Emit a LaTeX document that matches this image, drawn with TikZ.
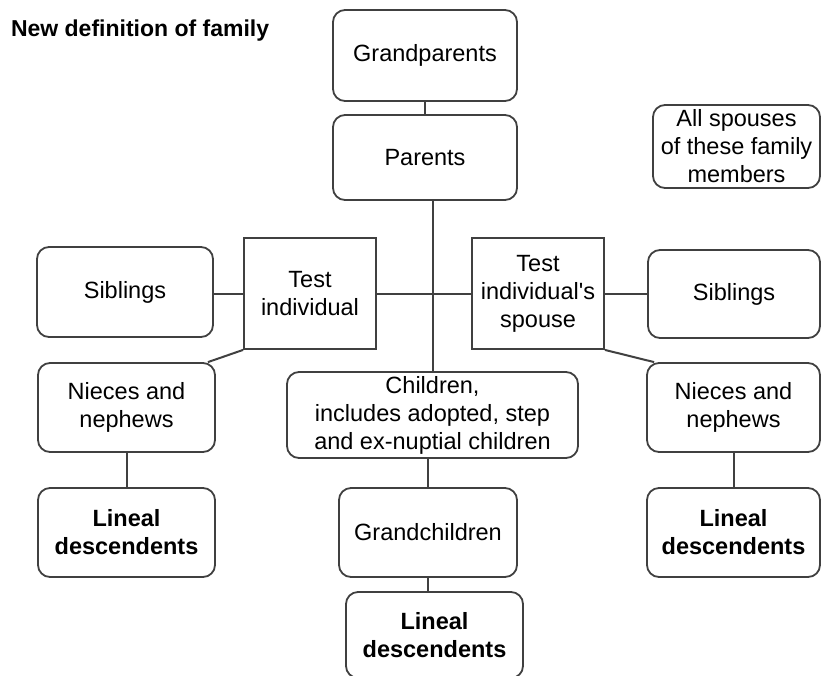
\documentclass[tikz,border=0pt]{standalone}
\usepackage{fontspec}
\setmainfont{Liberation Sans}
\usetikzlibrary{calc}
\definecolor{linegray}{gray}{0.25}

\begin{document}
\begin{tikzpicture}[x=1pt, y=-1pt,
    line width=2pt, draw=linegray,
    box/.style={rectangle, rounded corners=12pt, draw=linegray, line width=1.8pt, inner sep=0pt, align=center, font=\fontsize{23.5}{28}\selectfont},
    sqbox/.style={box, rounded corners=0pt},
    boldbox/.style={box, font=\fontsize{23.5}{28}\selectfont\bfseries}]
      \clip (0, 0) rectangle (821, 675);
      \node[anchor=base west, inner sep=0pt, font=\fontsize{23}{26}\selectfont\bfseries] (title) at (10, 36) {New definition of family};

      \node[box, minimum width=184, minimum height=91] (gp) at (425, 55.5) {Grandparents};
      \node[box, minimum width=184, minimum height=85] (par) at (425, 157.5) {Parents};
      \node[box, minimum width=167, minimum height=83] (spo) at (736.5, 146.5) {All spouses\\of these family\\members};

      \node[box, minimum width=176, minimum height=90] (sibl) at (125, 292) {Siblings};
      \node[sqbox, minimum width=132, minimum height=111] (ti) at (310, 293.5) {Test\\individual};
      \node[sqbox, minimum width=132, minimum height=111] (sp) at (538, 293.5) {Test\\individual\textquotesingle s\\spouse};
      \node[box, minimum width=172, minimum height=88] (sibr) at (734, 294) {Siblings};

      \node[box, minimum width=177, minimum height=89] (nl) at (126.5, 407.5) {Nieces and\\nephews};
      \node[box, minimum width=291, minimum height=86] (chi) at (432.5, 415) {Children,\\includes adopted, step\\and ex-nuptial children};
      \node[box, minimum width=173, minimum height=89] (nr) at (733.5, 407.5) {Nieces and\\nephews};

      \node[boldbox, minimum width=177, minimum height=89] (ldl) at (126.5, 532.5) {Lineal\\descendents};
      \node[box, minimum width=178, minimum height=89] (gch) at (428, 532.5) {Grandchildren};
      \node[boldbox, minimum width=173, minimum height=89] (ldr) at (733.5, 532.5) {Lineal\\descendents};
      \node[boldbox, minimum width=177, minimum height=86] (ldm) at (434.5, 635) {Lineal\\descendents};

      \coordinate (nlc) at ($(nl.north east)+(-8, 0)$);
      \coordinate (nrc) at ($(nr.north west)+(8, 0)$);

      \draw (gp) -- (par);
      \draw (ti.west) -- (ti.west -| sibl.east);
      \draw (ti.east) -- (sp.west);
      \draw (sp.east) -- (sp.east -| sibr.west);
      \draw (chi.north) -- (chi.north |- par.south);
      \draw (ti.south west) -- (nlc);
      \draw (sp.south east) -- (nrc);
      \draw (nl) -- (ldl);
      \draw (nr) -- (ldr);
      \draw (gch.north) -- (gch.north |- chi.south);
      \draw (gch.south) -- (gch.south |- ldm.north);
    \end{tikzpicture}
\end{document}
